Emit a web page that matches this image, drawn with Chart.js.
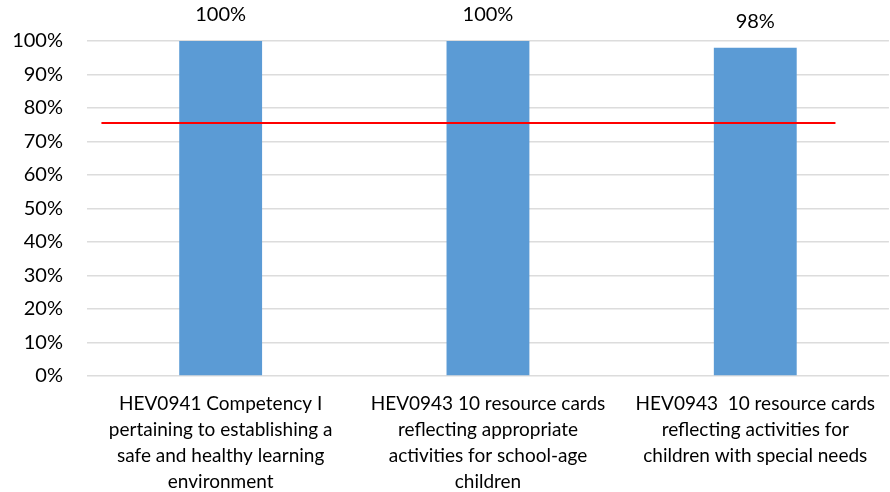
<!DOCTYPE html>
<html>
<head>
<meta charset="utf-8">
<script src="https://cdn.jsdelivr.net/npm/chart.js@4.4.1/dist/chart.umd.min.js"></script>
<style>
  html, body { margin: 0; padding: 0; background: #ffffff; }
  #wrap { width: 890px; height: 492px; position: relative; }
</style>
</head>
<body>
<div id="wrap"><canvas id="c" width="890" height="492"></canvas></div>
<script>
const categories = [
  ["HEV0941 Competency I", "pertaining to establishing a", "safe and healthy learning", "environment"],
  ["HEV0943 10 resource cards", "reflecting appropriate", "activities for school-age", "children"],
  ["HEV0943  10 resource cards", "reflecting activities for", "children with special needs"]
];
const values = [100, 100, 98];
const valueLabels = ["100%", "100%", "98%"];
const yTicks = [0, 10, 20, 30, 40, 50, 60, 70, 80, 90, 100];
const targetLevel = 75.5;
const targetSpan = [-0.446, 2.30];

const FONT = "Lato, 'Liberation Sans', sans-serif";

const valueLabelPlugin = {
  id: 'valueLabels',
  afterDatasetsDraw(chart) {
    const meta = chart.getDatasetMeta(0);
    const ctx = chart.ctx;
    ctx.save();
    ctx.font = "20px " + FONT;
    ctx.fillStyle = "#000000";
    ctx.textAlign = "center";
    ctx.textBaseline = "middle";
    meta.data.forEach((bar, i) => {
      ctx.fillText(valueLabels[i], bar.x, bar.y - 26);
    });
    ctx.restore();
  }
};

new Chart(document.getElementById('c'), {
  type: 'bar',
  data: {
    labels: categories,
    datasets: [
      {
        type: 'bar',
        data: values,
        backgroundColor: '#5b9bd5',
        borderWidth: 0,
        grouped: false,
        categoryPercentage: 1,
        barPercentage: 0.31,
        xAxisID: 'x',
        order: 2
      },
      {
        type: 'line',
        data: [{x: targetSpan[0], y: targetLevel}, {x: targetSpan[1], y: targetLevel}],
        borderColor: '#ff0000',
        borderWidth: 2,
        pointRadius: 0,
        fill: false,
        xAxisID: 'x2',
        order: 1
      }
    ]
  },
  options: {
    responsive: false,
    animation: false,
    layout: { padding: { top: 41, right: 0, left: 0, bottom: 0 } },
    plugins: {
      legend: { display: false },
      tooltip: { enabled: false }
    },
    scales: {
      x: {
        type: 'category',
        offset: true,
        grid: { display: false, drawTicks: false },
        border: { display: false },
        ticks: {
          color: '#000000',
          font: { family: FONT, size: 19, lineHeight: 1.37 },
          padding: 15,
          maxRotation: 0,
          minRotation: 0,
          autoSkip: false
        },
        afterFit(scale) { scale.height = 116; }
      },
      x2: {
        type: 'linear',
        display: false,
        offset: false,
        min: -0.5,
        max: 2.5
      },
      y: {
        min: 0,
        max: 100,
        afterBuildTicks(scale) { scale.ticks = yTicks.map(v => ({ value: v })); },
        grid: { color: '#dcdcdc', lineWidth: 1.6, drawTicks: false },
        border: { display: false },
        ticks: {
          color: '#000000',
          font: { family: FONT, size: 20 },
          padding: 24,
          callback: v => v + '%'
        },
        afterFit(scale) { scale.width = 87; }
      }
    }
  },
  plugins: [valueLabelPlugin]
});
</script>
</body>
</html>
